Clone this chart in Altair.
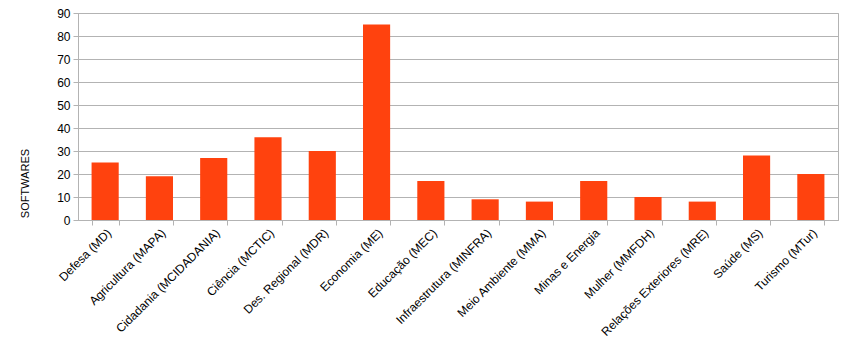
import altair as alt
import pandas as pd

categories = [
    "Defesa (MD)", "Agricultura (MAPA)", "Cidadania (MCIDADANIA)", "Ciência (MCTIC)",
    "Des. Regional (MDR)", "Economia (ME)", "Educação (MEC)", "Infraestrutura (MINFRA)",
    "Meio Ambiente (MMA)", "Minas e Energia", "Mulher (MMFDH)", "Relações Exteriores (MRE)",
    "Saúde (MS)", "Turismo (MTur)",
]
softwares = [25, 19, 27, 36, 30, 85, 17, 9, 8, 17, 10, 8, 28, 20]
y_ticks = [0, 10, 20, 30, 40, 50, 60, 70, 80, 90]

df = pd.DataFrame({"cat": categories, "val": softwares})

chart = alt.Chart(df).mark_bar(color="#FF420E").encode(
    x=alt.X("cat:N", sort=categories, title=None,
            scale=alt.Scale(paddingInner=0.5, paddingOuter=0.25),
            axis=alt.Axis(labelAngle=-45, labelAlign="right", labelBaseline="top",
                          tickBand="extent", tickSize=5, tickColor="#b3b3b3",
                          domainColor="#b3b3b3", labelFont="Liberation Sans",
                          labelFontSize=12, labelColor="#000000", labelPadding=2,
                          grid=False)),
    y=alt.Y("val:Q", title="SOFTWARES",
            scale=alt.Scale(domain=[0, 90], nice=False),
            axis=alt.Axis(values=y_ticks, tickSize=5, tickColor="#b3b3b3",
                          domainColor="#b3b3b3", gridColor="#b3b3b3",
                          labelFont="Liberation Sans", labelFontSize=12,
                          labelColor="#000000", labelPadding=3,
                          titleFont="Liberation Sans", titleFontSize=11,
                          titleFontWeight="normal", titleColor="#000000",
                          titleX=-48, titleY=170)),
).properties(
    width=760, height=207,
    autosize=alt.AutoSizeParams(type="none"),
    padding={"left": 78, "top": 13, "right": 12, "bottom": 144},
).configure_view(stroke="#b3b3b3")

chart.save("out.html", embed_options={"renderer": "svg", "actions": False})
